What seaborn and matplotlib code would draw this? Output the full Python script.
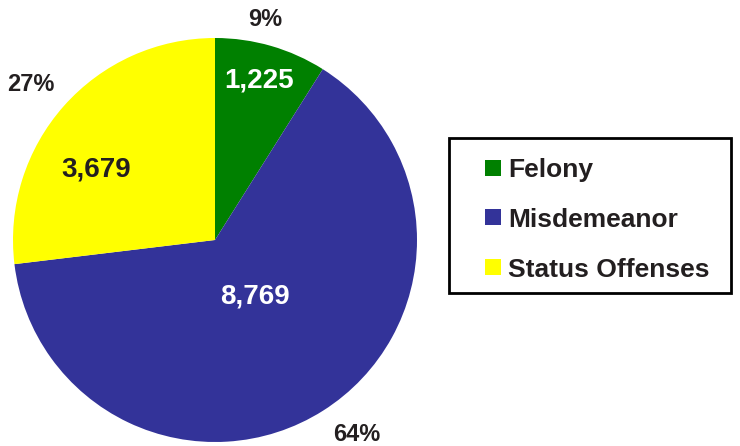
import matplotlib
matplotlib.use("Agg")
import matplotlib.pyplot as plt
from matplotlib.lines import Line2D
from matplotlib.patches import Rectangle
import seaborn as sns

# data
categories = ["Felony", "Misdemeanor", "Status Offenses"]
counts = [1225, 8769, 3679]
palette = ["#008000", "#333399", "#FFFF00"]
value_colors = ["white", "white", "#231F20"]

sns.set_style("white")
plt.rcParams['font.family'] = ['Liberation Sans', 'DejaVu Sans']
dark = "#231F20"

fig = plt.figure(figsize=(7.4, 4.46), dpi=100)
ax = fig.add_axes([13 / 740, 4 / 446, 404 / 740, 404 / 446])

colors = sns.color_palette(palette)
wedges, _ = ax.pie(counts, colors=colors, startangle=90, counterclock=False,
                   radius=1, wedgeprops=dict(linewidth=0))
ax.set_xlim(-1, 1)
ax.set_ylim(-1, 1)
ax.set_aspect("equal")
ax.axis("off")

total = sum(counts)

# label placement (in pie radius units)
value_pos = [(0.22, 0.79), (0.20, -0.28), (-0.59, 0.35)]
pct_pos = [(0.25, 1.09), (0.70, -0.965), (-0.91, 0.77)]

for i, c in enumerate(counts):
    ax.text(*value_pos[i], f"{c:,}", ha="center", va="center",
            fontsize=20, fontweight="bold", color=value_colors[i], clip_on=False)
    ax.text(*pct_pos[i], f"{round(c / total * 100)}%", ha="center", va="center",
            fontsize=17, fontweight="bold", color=dark, clip_on=False)

handles = [Line2D([], [], marker="s", linestyle="none", markersize=11.5,
                  markerfacecolor=col, markeredgewidth=0) for col in colors]
leg = fig.legend(handles, categories, loc="upper left",
                 bbox_to_anchor=(449 / 740, 1 - 138 / 446),
                 prop=dict(weight="bold", size=19), frameon=False,
                 borderpad=0.75, handlelength=1.8, handletextpad=-0.30,
                 labelspacing=0.98, borderaxespad=0)
for t in leg.get_texts():
    t.set_color(dark)

# legend box
fig.patches.append(Rectangle((449 / 740, 1 - 293 / 446), 282 / 740, 155 / 446,
                             transform=fig.transFigure, fill=False,
                             edgecolor="black", linewidth=2))

fig.savefig("out.png", dpi=100, facecolor="white")
